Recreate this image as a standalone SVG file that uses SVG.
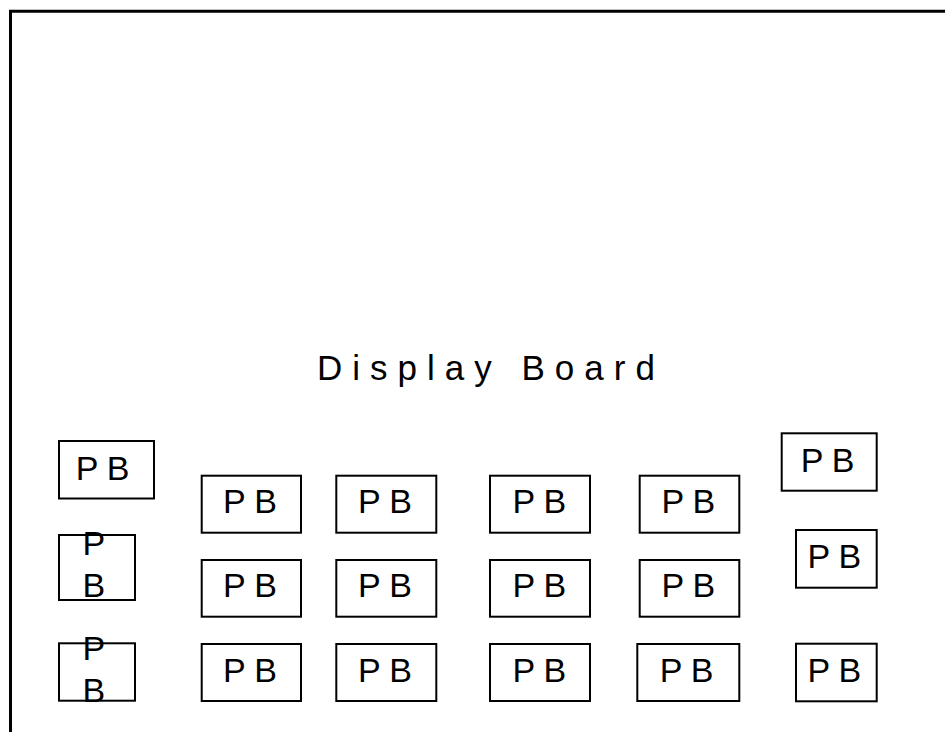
<svg xmlns="http://www.w3.org/2000/svg" width="945" height="732" viewBox="0 0 945 732">
  <style>
    .frame { fill: none; stroke: #000; stroke-width: 3; }
    .pb { fill: #fff; stroke: #000; stroke-width: 2; }
    .lbl { font-family: "Liberation Sans", Arial, sans-serif; font-size: 34px; letter-spacing: 8.5px; fill: #000; }
    .title { font-family: "Liberation Sans", Arial, sans-serif; font-size: 35px; letter-spacing: 10px; fill: #000; }
  </style>

  <!-- room outline (open at right and bottom) -->
  <path class="frame" d="M10.5,732 V11.3 H945"/>

  <text class="title" x="317" y="380">Display Board</text>

  <g id="connectors"/>

  <!-- left column -->
  <g id="pb-l1"><rect class="pb" x="59" y="441" width="95" height="57.5"/><text class="lbl" x="75.7" y="480">PB</text></g>
  <g id="pb-l2"><rect class="pb" x="59" y="535" width="76" height="65"/><text class="lbl" x="82.4" y="555">P</text><text class="lbl" x="82.4" y="597">B</text></g>
  <g id="pb-l3"><rect class="pb" x="59" y="643.3" width="76" height="57.4"/><text class="lbl" x="82.4" y="660">P</text><text class="lbl" x="82.4" y="701.7">B</text></g>

  <!-- column A -->
  <g id="pb-a1"><rect class="pb" x="201.7" y="475.7" width="99.3" height="57"/><text class="lbl" x="223" y="512.7">PB</text></g>
  <g id="pb-a2"><rect class="pb" x="201.7" y="560" width="99.3" height="56.7"/><text class="lbl" x="223" y="596.7">PB</text></g>
  <g id="pb-a3"><rect class="pb" x="201.7" y="644" width="99.3" height="57"/><text class="lbl" x="223" y="681.7">PB</text></g>

  <!-- column B -->
  <g id="pb-b1"><rect class="pb" x="336.3" y="475.7" width="100" height="57"/><text class="lbl" x="358" y="512.7">PB</text></g>
  <g id="pb-b2"><rect class="pb" x="336.3" y="560" width="100" height="56.7"/><text class="lbl" x="358" y="596.7">PB</text></g>
  <g id="pb-b3"><rect class="pb" x="336.3" y="644" width="100" height="57"/><text class="lbl" x="358" y="681.7">PB</text></g>

  <!-- column C -->
  <g id="pb-c1"><rect class="pb" x="490" y="475.7" width="100" height="57"/><text class="lbl" x="512.4" y="512.7">PB</text></g>
  <g id="pb-c2"><rect class="pb" x="490" y="560" width="100" height="56.7"/><text class="lbl" x="512.4" y="596.7">PB</text></g>
  <g id="pb-c3"><rect class="pb" x="490" y="644" width="100" height="57"/><text class="lbl" x="512.4" y="681.7">PB</text></g>

  <!-- column D -->
  <g id="pb-d1"><rect class="pb" x="639.7" y="475.7" width="99.6" height="57"/><text class="lbl" x="661.4" y="512.7">PB</text></g>
  <g id="pb-d2"><rect class="pb" x="639.7" y="560" width="99.6" height="56.7"/><text class="lbl" x="661.4" y="596.7">PB</text></g>
  <g id="pb-d3"><rect class="pb" x="637.3" y="644" width="102" height="57"/><text class="lbl" x="659.7" y="681.7">PB</text></g>

  <!-- right column -->
  <g id="pb-r1"><rect class="pb" x="781.7" y="433.3" width="95" height="57.4"/><text class="lbl" x="800.7" y="471.7">PB</text></g>
  <g id="pb-r2"><rect class="pb" x="796" y="530" width="80.7" height="57.7"/><text class="lbl" x="807.4" y="567.7">PB</text></g>
  <g id="pb-r3"><rect class="pb" x="796" y="643.7" width="80.7" height="57.6"/><text class="lbl" x="807.4" y="681.7">PB</text></g>
</svg>
